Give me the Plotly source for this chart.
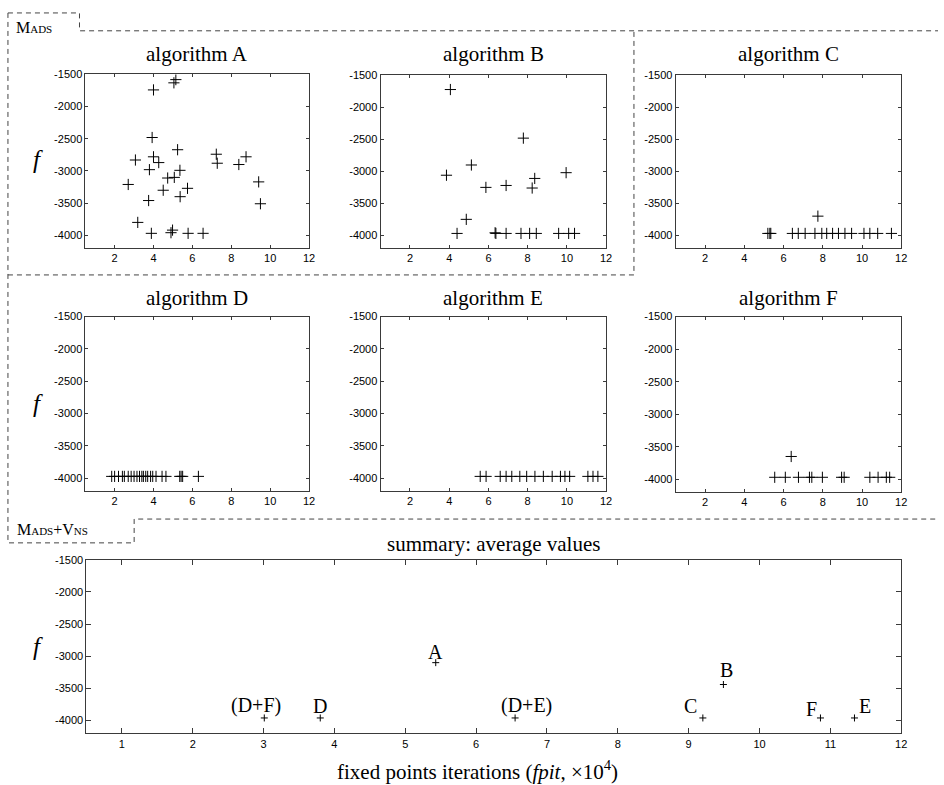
import plotly.graph_objects as go

W, H = 944, 785

# fixed points iterations (x10^4) and objective value f for each algorithm run
alg_a_fpit = [4.0, 5.05, 5.15, 3.93, 5.24, 4.0, 7.23, 8.76, 3.07, 4.27, 7.28, 8.39, 3.79, 5.36,
              4.73, 5.07, 2.7, 9.41, 4.5, 5.75, 5.37, 3.75, 9.5, 3.19, 3.89, 4.98, 4.9, 5.78, 6.55]
alg_a_f = [-1740, -1630, -1580, -2480, -2670, -2780, -2740, -2780, -2830, -2870, -2880, -2900, -2980, -2990,
           -3110, -3100, -3210, -3170, -3300, -3270, -3400, -3460, -3510, -3800, -3970, -3920, -3960, -3970, -3970]

alg_b_fpit = [4.06, 7.78, 5.13, 3.86, 9.96, 8.36, 5.87, 6.9, 8.23, 4.87, 4.4, 6.34, 6.38, 6.9,
              7.66, 8.1, 8.44, 9.58, 10.09, 10.39]
alg_b_f = [-1720, -2480, -2900, -3060, -3020, -3110, -3250, -3220, -3260, -3750, -3970, -3960, -3970, -3970,
           -3970, -3970, -3970, -3970, -3970, -3970]

alg_c_fpit = [5.2, 5.3, 5.35, 6.45, 6.75, 7.1, 7.6, 7.95, 8.2, 8.5, 8.8, 9.13, 9.47,
              10.1, 10.4, 10.8, 11.5, 7.75]
alg_c_f = [-3970, -3970, -3970, -3970, -3970, -3970, -3970, -3970, -3970, -3970, -3970, -3970, -3970,
           -3970, -3970, -3970, -3970, -3700]

alg_d_fpit = [1.85, 2.0, 2.2, 2.4, 2.5, 2.7, 2.85, 3.0, 3.15, 3.28, 3.4, 3.48, 3.6, 3.7, 3.85,
              3.96, 4.13, 4.44, 4.64, 5.35, 5.42, 5.5, 6.31]
alg_d_f = [-3970] * 23

alg_e_fpit = [5.58, 5.88, 6.6, 6.9, 7.19, 7.6, 7.95, 8.37, 8.8, 9.25, 9.67, 9.9, 10.14,
              11.07, 11.33, 11.58]
alg_e_f = [-3970] * 16

alg_f_fpit = [5.55, 6.09, 6.39, 6.76, 7.32, 7.44, 7.98, 8.96, 9.09, 10.4, 10.82, 11.24, 11.41]
alg_f_f = [-3970, -3970, -3650, -3970, -3970, -3970, -3970, -3970, -3970, -3970, -3970, -3970, -3970]

# averages per algorithm (and combinations)
summary_names = ["(D+F)", "D", "A", "(D+E)", "C", "B", "F", "E"]
summary_fpit = [3.01, 3.8, 5.43, 6.55, 9.2, 9.49, 10.86, 11.34]
summary_f = [-3960, -3960, -3100, -3960, -3960, -3440, -3960, -3960]

panel_titles = ["algorithm A", "algorithm B", "algorithm C",
                "algorithm D", "algorithm E", "algorithm F"]
summary_title = "summary: average values"
region_names = ["Mads", "Mads+Vns"]

ytick_vals = [-1500, -2000, -2500, -3000, -3500, -4000]
ytick_text = ["-1500", "-2000", "-2500", "-3000", "-3500", "-4000"]
panel_xticks = [2, 4, 6, 8, 10, 12]
summary_xticks = [1, 2, 3, 4, 5, 6, 7, 8, 9, 10, 11, 12]

SERIF = "Liberation Serif"
SANS = "Liberation Sans"
FRAME = "#3a3a3a"


def fx(px):
    return px / W


def fy(py):
    return 1 - py / H


# axes boxes in pixels: left, right, top, bottom
boxes = [
    (86, 311, 69, 244),
    (383, 610, 70, 244),
    (680, 907, 70, 244),
    (86, 311, 313, 489),
    (383, 610, 313, 489),
    (680, 907, 313, 490),
    (87, 907, 558, 733),
]

series = [
    (alg_a_fpit, alg_a_f),
    (alg_b_fpit, alg_b_f),
    (alg_c_fpit, alg_c_f),
    (alg_d_fpit, alg_d_f),
    (alg_e_fpit, alg_e_f),
    (alg_f_fpit, alg_f_f),
    (summary_fpit, summary_f),
]

fig = go.Figure()
layout = {}

for i, ((xs, ys), box) in enumerate(zip(series, boxes)):
    n = i + 1
    sfx = "" if n == 1 else str(n)
    is_summary = n == 7
    fig.add_trace(go.Scatter(
        x=xs, y=ys, mode="markers",
        marker=dict(symbol="cross-thin", size=5 if is_summary else 8,
                    line=dict(color="black", width=1), color="black"),
        xaxis="x" + sfx, yaxis="y" + sfx, showlegend=False, hoverinfo="x+y",
    ))
    l, r, t, b = box
    xt = summary_xticks if is_summary else panel_xticks
    layout["xaxis" + sfx] = dict(
        domain=[fx(l), fx(r)], anchor="y" + sfx, range=[0.5, 12],
        tickvals=xt, ticktext=[str(v) for v in xt],
        ticks="inside", ticklen=5 if is_summary else 3, tickcolor=FRAME,
        showline=True, linecolor=FRAME, linewidth=1, mirror="ticks",
        showgrid=False, zeroline=False,
        tickfont=dict(family=SANS, size=11, color="black"),
    )
    layout["yaxis" + sfx] = dict(
        domain=[fy(b), fy(t)], anchor="x" + sfx, range=[-4200, -1500],
        tickvals=ytick_vals, ticktext=ytick_text,
        ticks="inside", ticklen=5 if is_summary else 3, tickcolor=FRAME,
        showline=True, linecolor=FRAME, linewidth=1, mirror="ticks",
        showgrid=False, zeroline=False,
        tickfont=dict(family=SANS, size=11, color="black"),
    )

annotations = []

# panel titles
title_rows = [48, 48, 48, 294, 294, 294]
for title, box, ty in zip(panel_titles, boxes[:6], title_rows):
    l, r, t, b = box
    annotations.append(dict(
        x=fx((l + r) / 2), y=fy(ty), xref="paper", yref="paper",
        text=title, showarrow=False, xanchor="center", yanchor="middle",
        font=dict(family=SERIF, size=21, color="black"),
    ))
annotations.append(dict(
    x=fx(497), y=fy(542), xref="paper", yref="paper", text=summary_title,
    showarrow=False, xanchor="center", yanchor="middle",
    font=dict(family=SERIF, size=21, color="black"),
))
annotations.append(dict(
    x=fx(481), y=fy(770), xref="paper", yref="paper",
    text="fixed points iterations (<i>fpit</i>, ×10<sup>4</sup>)",
    showarrow=False, xanchor="center", yanchor="middle",
    font=dict(family=SERIF, size=21, color="black"),
))

# y axis symbol f for each row
for yy in (155, 401, 645):
    annotations.append(dict(
        x=fx(38), y=fy(yy), xref="paper", yref="paper", text="<i>f</i>",
        showarrow=False, xanchor="center", yanchor="middle",
        font=dict(family=SERIF, size=25, color="black"),
    ))

# labels next to each summary point (pixel offsets)
label_offsets = {
    "(D+F)": (-8, 12), "D": (0, 12), "A": (0, 11), "(D+E)": (11, 12),
    "C": (-12, 12), "B": (3, 15), "F": (-9, 9), "E": (11, 12),
}
for name, xv, yv in zip(summary_names, summary_fpit, summary_f):
    dx, dy = label_offsets[name]
    annotations.append(dict(
        x=xv, y=yv, xref="x7", yref="y7", text=name, showarrow=False,
        xanchor="center", yanchor="middle", xshift=dx, yshift=dy,
        font=dict(family=SERIF, size=20, color="black"),
    ))

# region labels in small caps
for name, (lx, ly, size) in zip(region_names, [(14, 22, 16), (15, 528, 16)]):
    annotations.append(dict(
        x=fx(lx), y=fy(ly), xref="paper", yref="paper", text=name,
        showarrow=False, xanchor="left", yanchor="middle",
        font=dict(family=SERIF, size=size, color="black", variant="small-caps"),
    ))


def path(points):
    return "M " + " L ".join(f"{fx(px)},{fy(py)}" for px, py in points)


region_line = dict(color="#444", width=1, dash="5px,4px")
shapes = [
    dict(type="path", xref="paper", yref="paper",
         path=path([(8, 7), (80, 7), (80, 25), (944, 25)]), line=region_line),
    dict(type="path", xref="paper", yref="paper",
         path=path([(8, 7), (8, 541), (135, 541), (135, 517), (944, 517)]), line=region_line),
    dict(type="path", xref="paper", yref="paper",
         path=path([(8, 271), (638, 271), (638, 25)]), line=region_line),
]

fig.update_layout(
    width=W, height=H,
    margin=dict(l=0, r=0, t=0, b=0),
    paper_bgcolor="white", plot_bgcolor="white",
    annotations=annotations, shapes=shapes,
    showlegend=False,
    **layout,
)

fig.write_html("out.html")
